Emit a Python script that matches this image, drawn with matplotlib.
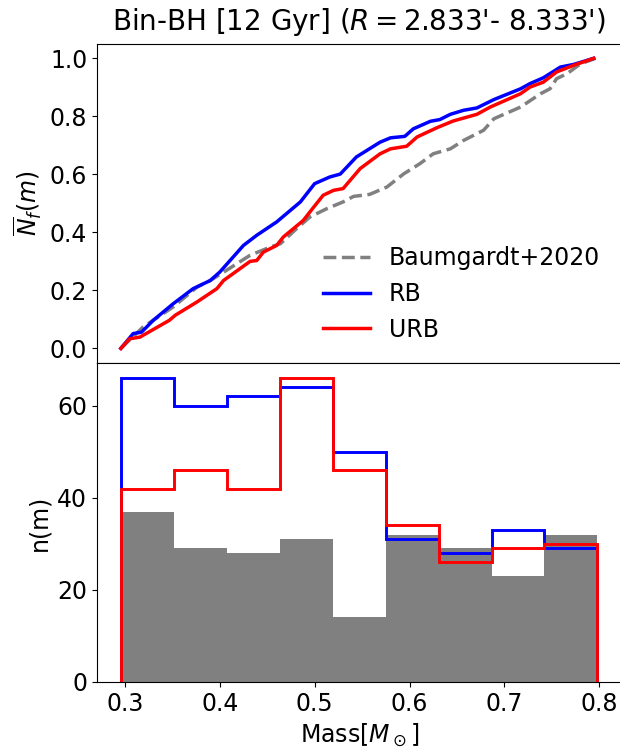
import matplotlib
matplotlib.use('Agg')
import matplotlib.pyplot as plt
import numpy as np

## mass bins shared by all three histograms
binEdges = [0.296, 0.3518, 0.4076, 0.4633, 0.5191, 0.5749, 0.6307, 0.6864, 0.7422, 0.798]

## star counts per mass bin
countsObs = [37, 29, 28, 31, 14, 32, 29, 23, 32]   # Baumgardt+2020
countsRB = [66, 60, 62, 64, 50, 31, 28, 33, 29]
countsURB = [42, 46, 42, 66, 46, 34, 26, 29, 30]

## normalised cumulative number vs mass
massObs = [0.2958, 0.319, 0.351, 0.376, 0.390, 0.407, 0.432, 0.453, 0.464, 0.481,
           0.495, 0.513, 0.530, 0.541, 0.558, 0.576, 0.594, 0.611, 0.625, 0.643,
           0.657, 0.678, 0.689, 0.717, 0.738, 0.748, 0.755, 0.766, 0.780, 0.796]
cumObs = [0.0, 0.073, 0.143, 0.211, 0.234, 0.269, 0.321, 0.349, 0.361, 0.413,
          0.453, 0.482, 0.505, 0.524, 0.531, 0.556, 0.602, 0.637, 0.671, 0.688,
          0.717, 0.752, 0.792, 0.832, 0.878, 0.895, 0.930, 0.947, 0.981, 1.0]

massRB = [0.2958, 0.3088, 0.3176, 0.330, 0.351, 0.372, 0.390, 0.400, 0.425, 0.439,
          0.460, 0.485, 0.500, 0.516, 0.527, 0.544, 0.569, 0.580, 0.595, 0.604,
          0.622, 0.632, 0.643, 0.657, 0.671, 0.689, 0.717, 0.727, 0.741, 0.759,
          0.773, 0.794]
cumRB = [0.0, 0.051, 0.056, 0.097, 0.154, 0.206, 0.234, 0.263, 0.355, 0.390,
         0.436, 0.505, 0.568, 0.591, 0.601, 0.660, 0.711, 0.726, 0.731, 0.757,
         0.783, 0.789, 0.807, 0.821, 0.829, 0.858, 0.895, 0.913, 0.933, 0.970,
         0.979, 1.0]

massURB = [0.2958, 0.305, 0.316, 0.347, 0.353, 0.376, 0.397, 0.404, 0.432, 0.439,
           0.446, 0.460, 0.467, 0.488, 0.499, 0.509, 0.520, 0.530, 0.548, 0.569,
           0.580, 0.597, 0.608, 0.629, 0.646, 0.671, 0.685, 0.717, 0.727, 0.741,
           0.755, 0.773, 0.794]
cumURB = [0.0, 0.033, 0.039, 0.097, 0.114, 0.160, 0.206, 0.234, 0.300, 0.303,
          0.332, 0.355, 0.384, 0.441, 0.487, 0.528, 0.545, 0.551, 0.620, 0.671,
          0.688, 0.697, 0.729, 0.761, 0.784, 0.807, 0.832, 0.878, 0.901, 0.918,
          0.953, 0.976, 1.0]

plt.rcParams['font.size'] = 17

fig, (ax1, ax2) = plt.subplots(2, 1, sharex=True, figsize=(6.2, 7.56), dpi=100)
fig.subplots_adjust(left=0.1565, right=1.002, top=0.942, bottom=0.098, hspace=0)

## top panel: cumulative distributions
ax1.plot(massObs, cumObs, '--', color='gray', lw=2.5, label='Baumgardt+2020')
ax1.plot(massRB, cumRB, color='blue', lw=2.5, label='RB')
ax1.plot(massURB, cumURB, color='red', lw=2.5, label='URB')
ax1.set_ylabel(r'$\overline{N}_f(m)$')
ax1.set_yticks([0.0, 0.2, 0.4, 0.6, 0.8, 1.0])
ax1.tick_params(axis='x', bottom=False, labelbottom=False)
ax1.legend(loc='lower right', frameon=False)
ax1.set_title("Bin-BH [12 Gyr] ($R=$2.833'- 8.333')", fontsize=20, pad=10)

## bottom panel: mass histograms
ax2.stairs(countsObs, binEdges, fill=True, color='gray')
ax2.stairs(countsRB, binEdges, color='blue', lw=2.1)
ax2.stairs(countsURB, binEdges, color='red', lw=2.1)
ax2.set_ylabel('n(m)')
ax2.set_xlabel(r'Mass[$M_\odot$]')
ax2.set_xticks([0.3, 0.4, 0.5, 0.6, 0.7, 0.8])
ax2.set_yticks([0, 20, 40, 60])

plt.savefig('out.png')
